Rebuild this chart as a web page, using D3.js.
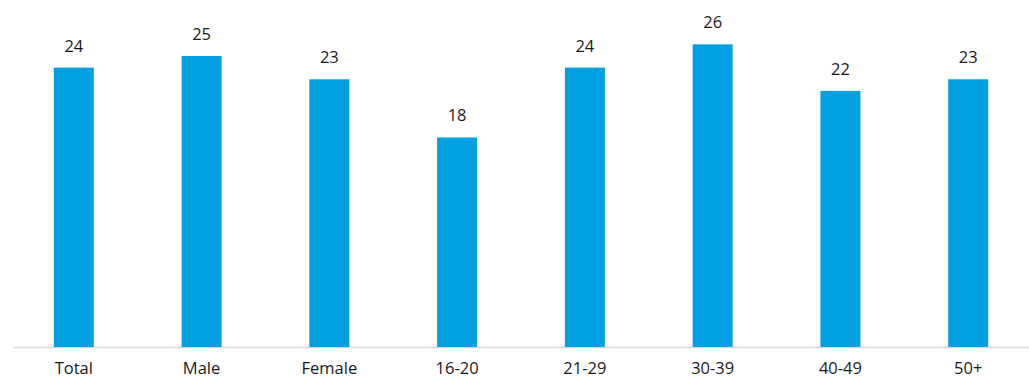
<!DOCTYPE html>
<html>
<head>
<meta charset="utf-8">
<script src="https://cdn.jsdelivr.net/npm/d3@7"></script>
<style>
  body { margin: 0; background: #fff; }
  text { font-family: "Open Sans", "Noto Sans", sans-serif; fill: #1a1a1a; }
</style>
</head>
<body>
<svg></svg>
<script>
var categories = ["Total", "Male", "Female", "16-20", "21-29", "30-39", "40-49", "50+"];
var values = [24, 25, 23, 18, 24, 26, 22, 23];

var viewWidth = 1029;
var viewHeight = 380;

var baseline = 347;

var svg = d3.select("svg")
    .attr("width", viewWidth)
    .attr("height", viewHeight);

var x = d3.scaleBand()
    .domain(categories)
    .range([10, 1032])
    .paddingInner(0.687)
    .paddingOuter(0.343);

var y = d3.scaleLinear()
    .domain([0, 30])
    .range([baseline, baseline - 30 * 11.64]);

// axis line
svg.append("line")
  .attr("x1", 14)
  .attr("x2", 1029)
  .attr("y1", baseline + 0.5)
  .attr("y2", baseline + 0.5)
  .attr("stroke", "#d9d9d9")
  .attr("stroke-width", 1.5);

var data = categories.map(function(c, i) { return {name: c, value: values[i]}; });

svg.selectAll(".bar")
  .data(data)
  .enter().append("rect")
    .attr("class", "bar")
    .attr("fill", "#00a0e1")
    .attr("x", function(d) { return x(d.name); })
    .attr("width", x.bandwidth())
    .attr("y", function(d) { return y(d.value); })
    .attr("height", function(d) { return baseline - y(d.value); });

svg.selectAll(".val")
  .data(data)
  .enter().append("text")
    .attr("class", "val")
    .attr("x", function(d) { return x(d.name) + x.bandwidth() / 2; })
    .attr("y", function(d) { return y(d.value) - 16; })
    .attr("text-anchor", "middle")
    .style("font-size", "16.5px")
    .text(function(d) { return d.value; });

svg.selectAll(".cat")
  .data(data)
  .enter().append("text")
    .attr("class", "cat")
    .attr("x", function(d) { return x(d.name) + x.bandwidth() / 2; })
    .attr("y", 374)
    .attr("text-anchor", "middle")
    .style("font-size", "16.5px")
    .text(function(d) { return d.name; });
</script>
</body>
</html>
